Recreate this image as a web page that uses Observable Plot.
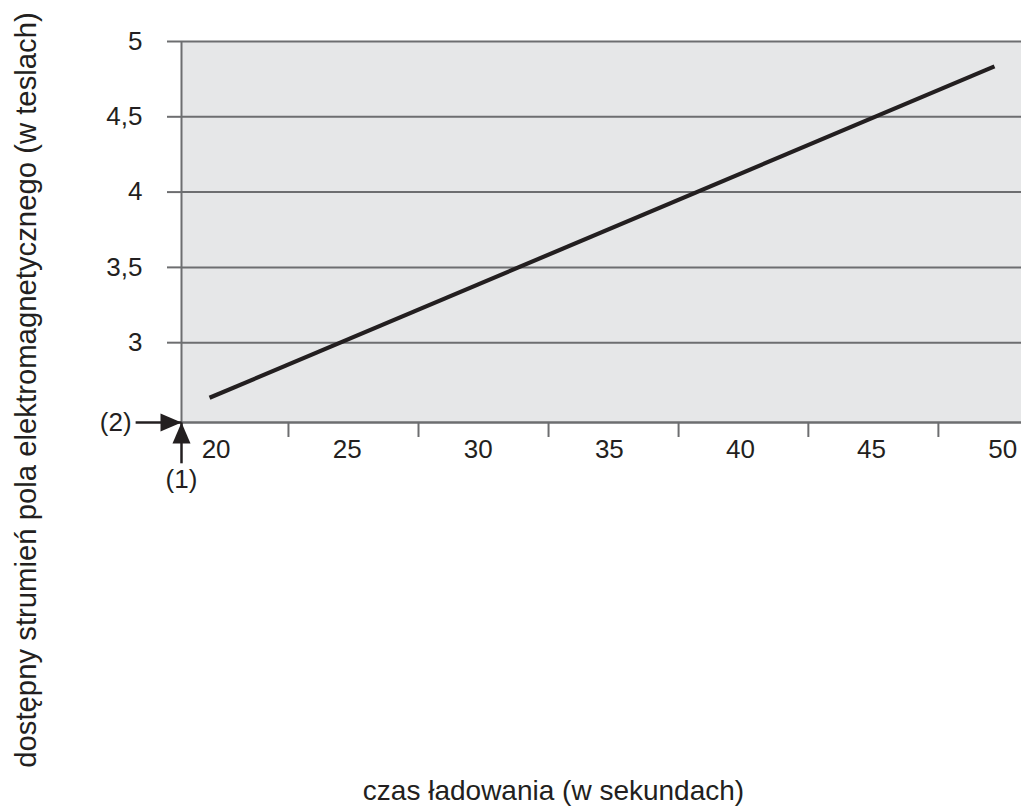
<!DOCTYPE html>
<html>
<head>
<meta charset="utf-8">
<script src="https://cdn.jsdelivr.net/npm/d3@7"></script>
<script src="https://cdn.jsdelivr.net/npm/@observablehq/plot@0.6"></script>
<style>
  html, body { margin: 0; padding: 0; background: #ffffff; }
  #chart svg { display: block; }
</style>
</head>
<body>
<div id="chart"></div>
<script>
// ---- data ----
const xLabels = [20, 25, 30, 35, 40, 45, 50];
const xTickMarks = [22.76, 27.72, 32.68, 37.64, 42.59, 47.55];
const yTicks = [3, 3.5, 4, 4.5, 5];
const lineX = [19.75, 49.69];
const lineY = [2.634, 4.835];
const xDomain = [18.68, 50.72];
const yDomain = [2.47, 5];
const arrowLabels = ["(1)", "(2)"];
const arrowTailX = [18.68, 16.93];
const arrowTailY = [2.199, 2.47];
const xTitle = "czas ładowania (w sekundach)";
const yTitle = "dostępny strumień pola elektromagnetycznego (w teslach)";

const lineData = lineX.map((x, i) => ({x, y: lineY[i]}));
const arrows = arrowLabels.map((label, i) => ({
  label, x1: arrowTailX[i], y1: arrowTailY[i], x2: xDomain[0], y2: yDomain[0], rot: i === 0 ? 0 : 90
}));

const GRID = "#6d6e70";
const INK = "#231f20";
const FONT = "'Liberation Sans', Arial, Helvetica, sans-serif";

const arrowHead = {
  draw(ctx) {
    ctx.moveTo(0, 0);
    ctx.lineTo(-9, 21);
    ctx.lineTo(9, 21);
    ctx.closePath();
  }
};

const fmt = d => String(d).replace(".", ",");

const chart = Plot.plot({
  width: 1021,
  height: 811,
  marginLeft: 181,
  marginRight: 0,
  marginTop: 41,
  marginBottom: 389,
  style: {fontFamily: FONT, background: "#ffffff", color: INK},
  x: {domain: xDomain, range: [181, 1021]},
  y: {domain: yDomain},
  marks: [
    Plot.frame({fill: "#e6e7e8", stroke: "none"}),
    Plot.gridY(yTicks, {stroke: GRID, strokeOpacity: 1, strokeWidth: 2}),
    Plot.axisY(yTicks, {
      tickSize: 14, tickPadding: 25, tickFormat: fmt, fontSize: 26,
      stroke: GRID, strokeWidth: 2, strokeOpacity: 1, fill: INK, label: null
    }),
    Plot.ruleX([xDomain[0]], {stroke: GRID, strokeWidth: 2}),
    Plot.axisX(xTickMarks, {
      tickSize: 15, tickFormat: () => "", stroke: GRID, strokeWidth: 2, strokeOpacity: 1, label: null
    }),
    Plot.ruleY([yDomain[0]], {stroke: GRID, strokeWidth: 2.5}),
    Plot.axisX(xLabels, {
      tickSize: 0, tickPadding: 17, fontSize: 26, fill: INK, label: null
    }),
    Plot.line(lineData, {x: "x", y: "y", stroke: INK, strokeWidth: 4.2, strokeLinecap: "butt"}),
    Plot.link(arrows, {x1: "x1", y1: "y1", x2: "x2", y2: "y2", stroke: INK, strokeWidth: 2.5}),
    Plot.dot(arrows, {x: "x2", y: "y2", symbol: arrowHead, rotate: "rot", fill: INK, stroke: "none", r: 5}),
    Plot.text(arrows.filter(d => d.rot === 90), {x: "x1", y: "y1", text: "label", textAnchor: "end", dx: -4, fontSize: 26, fill: INK}),
    Plot.text(arrows.filter(d => d.rot === 0), {x: "x1", y: "y1", text: "label", lineAnchor: "top", dy: 6, fontSize: 26, fill: INK}),
    Plot.text([xTitle], {frameAnchor: "bottom", textAnchor: "middle", dx: -48, dy: 377, fontSize: 28, fill: INK}),
    Plot.text([yTitle], {frameAnchor: "left", textAnchor: "middle", rotate: -90, dx: -155, dy: 158, fontSize: 29.3, fill: INK})
  ]
});

document.getElementById("chart").appendChild(chart);
</script>
</body>
</html>
